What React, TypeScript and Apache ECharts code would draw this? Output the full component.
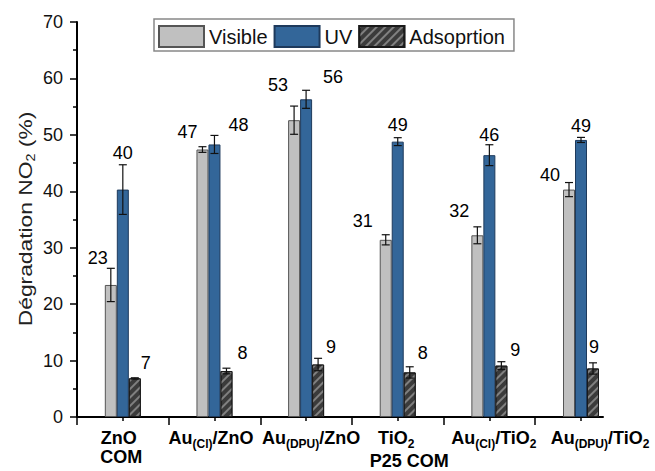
import React, { useEffect, useRef } from 'react';
import * as echarts from 'echarts';

// ---- data ----
const categories = ['ZnO COM', 'Au(Cl)/ZnO', 'Au(DPU)/ZnO', 'TiO2 P25 COM', 'Au(Cl)/TiO2', 'Au(DPU)/TiO2'];
// tick label lines (rich text markup, b = bold, s = subscript)
const categoryLines = [
  ['{b|ZnO}', '{b|COM}'],
  ['{b|Au}{s|(Cl)}{b|/ZnO}'],
  ['{b|Au}{s|(DPU)}{b|/ZnO}'],
  ['{b|TiO}{s|2}', '{b|P25 COM}'],
  ['{b|Au}{s|(Cl)}{b|/TiO}{s|2}'],
  ['{b|Au}{s|(DPU)}{b|/TiO}{s|2}'],
];
const positions = [1, 2, 3, 4, 5, 6];
const visible = [23.4, 47.4, 52.6, 31.4, 32.2, 40.3];
const visibleErr = [2.95, 0.5, 2.5, 0.9, 1.5, 1.25];
const uv = [40.3, 48.3, 56.3, 48.8, 46.4, 49.1];
const uvErr = [4.4, 1.6, 1.6, 0.7, 1.85, 0.45];
const adsorption = [6.85, 8.15, 9.3, 7.9, 9.1, 8.6];
const adsorptionErr = [0.1, 0.5, 1.1, 1.0, 0.7, 1.0];
const seriesNames = ['Visible', 'UV', 'Adsoprtion'];
const yTicks = [0, 10, 20, 30, 40, 50, 60, 70];
const yTitle = '{a|Dégradation NO}{s|2}{a| (%)}';

// which tick labels go on which (overlaid) x axis, so that none is dropped
const labelsAxisA = [1, 2, 3, 5];
const labelsAxisB = [4, 6];

// layout tweaks (px): horizontal shift of each tick-label line
const labelLineShift = [[-4, -1.5], [-3.5], [5], [-1.5, 11.5], [4.5], [19]];
// label placement (px, relative to bar top centre)
const visLabelOff = [[-13, -27], [-15, -18], [-16, -35], [-23, -19], [-18, -24], [-19, -15]];
const uvLabelOff = [[0, -37], [24, -19], [27, -22], [0, -17], [0, -20], [0, -14]];
const adsLabelOff = [[11, -15], [16, -18], [13, -18], [13, -19], [14, -16], [1, -21]];

const FONT = '"Liberation Sans", Arial, sans-serif';
const BAR_W = 12;

function errSeries(name: string, vals: number[], errs: number[], offs: number[][], k: number) {
  return {
    type: 'custom',
    name: name + ' err',
    z: 10,
    silent: true,
    data: positions.map((p, i) => [p, vals[i], errs[i]]),
    encode: { x: 0, y: 1 },
    renderItem: (params: any, api: any) => {
      const x = api.value(0);
      const y = api.value(1);
      const e = api.value(2);
      const i = params.dataIndex;
      const c = api.coord([x, y]);
      const t = api.coord([x, y + e]);
      const b = api.coord([x, y - e]);
      const cx = c[0] + k * BAR_W;
      const ch = 4;
      const st = { stroke: '#111', lineWidth: 1.2 };
      return {
        type: 'group',
        children: [
          { type: 'line', shape: { x1: cx, y1: t[1], x2: cx, y2: b[1] }, style: st },
          { type: 'line', shape: { x1: cx - ch, y1: t[1], x2: cx + ch, y2: t[1] }, style: st },
          { type: 'line', shape: { x1: cx - ch, y1: b[1], x2: cx + ch, y2: b[1] }, style: st },
          {
            type: 'text',
            x: cx + offs[i][0],
            y: c[1] + offs[i][1],
            style: {
              text: String(Math.round(y)),
              fill: '#000',
              fontSize: 18,
              fontFamily: FONT,
              align: 'center',
              verticalAlign: 'middle',
            },
          },
        ],
      };
    },
  };
}

export default function App() {
  const ref = useRef<HTMLDivElement>(null);
  useEffect(() => {
    if (!ref.current) return;
    const chart = echarts.init(ref.current, undefined, { renderer: 'svg' });
    const rich: any = {
      b: { fontSize: 18, fontWeight: 'bold', fontFamily: FONT, color: '#000', lineHeight: 19, verticalAlign: 'top' },
      s: { fontSize: 12, fontWeight: 'bold', fontFamily: FONT, color: '#000', lineHeight: 23, verticalAlign: 'top', padding: [9, 0, 0, 0] },
    };
    const builtLabels = categoryLines.map((lines, i) =>
      lines
        .map((ln, j) => {
          const sh = labelLineShift[i][j] || 0;
          const w = Math.round(Math.abs(sh) * 2);
          if (!w) return ln;
          const key = 'sp' + w;
          rich[key] = { width: w, fontSize: 18, lineHeight: 19, verticalAlign: 'top' };
          const sp = '{' + key + '| }';
          return sh > 0 ? sp + ln : ln + sp;
        })
        .join('\n')
    );
    const fmt = (v: number) => builtLabels[positions.indexOf(Math.round(v))] || '';
    const labelCommon = {
      showMinLabel: true,
      showMaxLabel: true,
      hideOverlap: false,
      margin: 12,
      formatter: fmt,
      rich,
    };
    chart.setOption({
      animation: false,
      backgroundColor: '#fff',
      textStyle: { fontFamily: FONT },
      grid: { left: 77, right: 52, top: 22, bottom: 54, containLabel: false, outerBoundsMode: 'none' },
      legend: {
        data: seriesNames,
        left: 154,
        top: 19,
        icon: 'rect',
        itemWidth: 45,
        itemHeight: 21,
        itemGap: 6,
        padding: [6, 9, 3, 4],
        borderColor: '#888',
        borderWidth: 1.5,
        backgroundColor: '#fff',
        textStyle: { fontSize: 20, color: '#111', fontFamily: FONT },
      },
      graphic: [
        {
          type: 'text',
          x: 27,
          y: 219,
          rotation: Math.PI / 2,
          scaleX: 1.2,
          silent: true,
          style: {
            text: yTitle,
            align: 'center',
            verticalAlign: 'middle',
            rich: {
              a: { fontSize: 19, fontFamily: FONT, fill: '#222', lineHeight: 22, verticalAlign: 'top' },
              s: { fontSize: 12, fontFamily: FONT, fill: '#222', lineHeight: 22, verticalAlign: 'top', padding: [9, 0, 0, 0] },
            },
          },
        },
      ],
      xAxis: [
        {
          type: 'value',
          min: 0.5,
          max: 6.24,
          splitLine: { show: false },
          axisLine: { show: true, onZero: false, lineStyle: { color: '#000', width: 2 } },
          axisTick: {
            show: true,
            customValues: [0.5, 1.5, 2.5, 3.5, 4.5, 5.5],
            length: 8,
            lineStyle: { color: '#000', width: 1.5 },
          },
          axisLabel: { ...labelCommon, customValues: labelsAxisA },
        },
        {
          type: 'value',
          min: 0.5,
          max: 6.24,
          position: 'bottom',
          splitLine: { show: false },
          axisLine: { show: false },
          axisLabel: { ...labelCommon, customValues: labelsAxisB },
          axisTick: {
            show: true,
            customValues: positions,
            length: 4,
            lineStyle: { color: '#000', width: 1.5 },
          },
        },
      ],
      yAxis: {
        type: 'value',
        min: yTicks[0],
        max: yTicks[yTicks.length - 1],
        interval: 10,
        splitLine: { show: false },
        axisLine: { show: true, lineStyle: { color: '#000', width: 2 } },
        axisTick: { show: true, length: 7, lineStyle: { color: '#000', width: 1.5 } },
        minorTick: { show: true, splitNumber: 2, length: 4, lineStyle: { color: '#000', width: 1.5 } },
        axisLabel: { fontSize: 18, color: '#111', margin: 14, fontFamily: FONT },
      },
      series: [
        {
          type: 'bar',
          name: seriesNames[0],
          data: positions.map((p, i) => [p, visible[i]]),
          barWidth: BAR_W,
          barGap: '0%',
          itemStyle: { color: '#c0c0c0', borderColor: '#555', borderWidth: 1 },
        },
        {
          type: 'bar',
          name: seriesNames[1],
          data: positions.map((p, i) => [p, uv[i]]),
          barWidth: BAR_W,
          barGap: '0%',
          itemStyle: { color: '#336699', borderColor: '#1e3a5c', borderWidth: 1 },
        },
        {
          type: 'bar',
          name: seriesNames[2],
          data: positions.map((p, i) => [p, adsorption[i]]),
          barWidth: BAR_W,
          barGap: '0%',
          itemStyle: {
            color: '#3b3b3b',
            borderColor: '#1a1a1a',
            borderWidth: 1,
            decal: {
              symbol: 'rect',
              symbolSize: 1,
              dashArrayX: [1, 0],
              dashArrayY: [1.5, 3.5],
              rotation: -Math.PI / 4,
              color: 'rgba(150,150,150,0.75)',
            },
          },
        },
        errSeries('Visible', visible, visibleErr, visLabelOff, -1),
        errSeries('UV', uv, uvErr, uvLabelOff, 0),
        errSeries('Adsoprtion', adsorption, adsorptionErr, adsLabelOff, 1),
      ],
    });
    return () => chart.dispose();
  }, []);
  return (
    <div
      ref={ref}
      data-categories={categories.join('|')}
      style={{ position: 'absolute', left: 0, top: 0, width: 655, height: 471 }}
    />
  );
}
